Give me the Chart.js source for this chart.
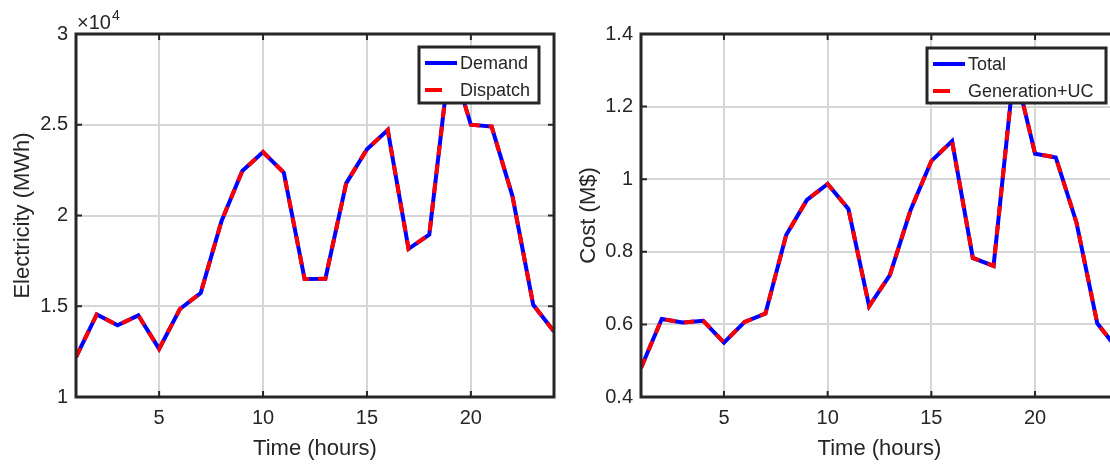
<!DOCTYPE html>
<html>
<head>
<meta charset="utf-8">
<title>Electricity and cost per hour</title>
<script src="https://cdn.jsdelivr.net/npm/chart.js@4.4.0/dist/chart.umd.min.js"></script>
<style>
  html, body { margin: 0; padding: 0; background: #fff; overflow: hidden; width: 1110px; height: 464px; }
  .panel { position: absolute; top: 0; height: 464px; }
  #leftPanel { left: 0; width: 560px; }
  #rightPanel { left: 560px; width: 566px; }
</style>
</head>
<body>
<div class="panel" id="leftPanel"><canvas id="energyChart" width="560" height="464"></canvas></div>
<div class="panel" id="rightPanel"><canvas id="costChart" width="566" height="464"></canvas></div>
<script>
// hours of the day (x axis)
const hours = [1, 2, 3, 4, 5, 6, 7, 8, 9, 10, 11, 12, 13, 14, 15, 16, 17, 18, 19, 20, 21, 22, 23, 24];
const xTicks = [5, 10, 15, 20];

// left panel: electricity in MWh
const demand   = [12200, 14550, 13950, 14500, 12650, 14850, 15730, 19690, 22450, 23500, 22360, 16500,
                  16520, 21770, 23650, 24710, 18160, 18950, 28800, 25000, 24900, 21070, 15080, 13610];
const dispatch = [12200, 14550, 13950, 14500, 12650, 14850, 15730, 19690, 22450, 23500, 22360, 16500,
                  16520, 21770, 23650, 24710, 18160, 18950, 28800, 25000, 24900, 21070, 15080, 13610];
const energyTicks = [10000, 15000, 20000, 25000, 30000];

// right panel: cost in M$
const totalCost = [0.48, 0.615, 0.605, 0.61, 0.55, 0.607, 0.63, 0.846, 0.943, 0.987, 0.918, 0.65,
                   0.736, 0.915, 1.05, 1.105, 0.783, 0.761, 1.31, 1.07, 1.06, 0.88, 0.603, 0.53];
const genUcCost = [0.48, 0.615, 0.605, 0.61, 0.55, 0.607, 0.63, 0.846, 0.943, 0.987, 0.918, 0.65,
                   0.736, 0.915, 1.05, 1.105, 0.783, 0.761, 1.31, 1.07, 1.06, 0.88, 0.603, 0.53];
const costTicks = [0.4, 0.6, 0.8, 1.0, 1.2, 1.4];

const axisColor = "#262626";
const gridColor = "#d6d6d6";
const fontFamily = "'Liberation Sans', Arial, Helvetica, sans-serif";
Chart.defaults.color = axisColor;
Chart.defaults.font.family = fontFamily;

function toPoints(values) {
    return values.map((v, i) => ({ x: hours[i], y: v }));
}

// box around the axes, inner tick marks, legend with a frame, exponent label
const framePlugin = {
    id: "framePlugin",
    afterDraw(chart, args, opts) {
        const ctx = chart.ctx;
        const a = chart.chartArea;
        const xs = chart.scales.x;
        const ys = chart.scales.y;
        ctx.save();

        ctx.strokeStyle = axisColor;
        ctx.lineWidth = 2;
        ctx.beginPath();
        xTicks.forEach(v => {
            const p = xs.getPixelForValue(v);
            ctx.moveTo(p, a.bottom); ctx.lineTo(p, a.bottom - 6);
            ctx.moveTo(p, a.top); ctx.lineTo(p, a.top + 6);
        });
        opts.yTicks.forEach(v => {
            const p = ys.getPixelForValue(v);
            ctx.moveTo(a.left, p); ctx.lineTo(a.left + 6, p);
            ctx.moveTo(a.right, p); ctx.lineTo(a.right - 6, p);
        });
        ctx.stroke();

        ctx.lineWidth = 3;
        ctx.strokeRect(a.left, a.top, a.right - a.left, a.bottom - a.top);

        // legend
        const lg = opts.legend;
        ctx.fillStyle = "#fff";
        ctx.fillRect(lg.x, lg.y, lg.w, lg.h);
        ctx.lineWidth = 3;
        ctx.strokeStyle = axisColor;
        ctx.strokeRect(lg.x, lg.y, lg.w, lg.h);
        ctx.font = "18px " + fontFamily;
        ctx.textBaseline = "middle";
        ctx.textAlign = "left";
        lg.items.forEach((item, i) => {
            const y = lg.y + 16 + i * 27;
            ctx.beginPath();
            ctx.strokeStyle = item.color;
            ctx.lineWidth = 4;
            ctx.setLineDash(item.dash);
            ctx.moveTo(lg.x + 6, y);
            ctx.lineTo(lg.x + 38, y);
            ctx.stroke();
            ctx.setLineDash([]);
            ctx.fillStyle = axisColor;
            ctx.fillText(item.label, lg.x + 41, y + 1);
        });

        if (opts.exponent) {
            ctx.fillStyle = axisColor;
            ctx.textBaseline = "alphabetic";
            ctx.font = "20px " + fontFamily;
            const base = "\u00d710";
            ctx.fillText(base, 77, 29);
            const w = ctx.measureText(base).width;
            ctx.font = "14px " + fontFamily;
            ctx.fillText(opts.exponent, 78 + w, 20);
        }
        ctx.restore();
    }
};

function makeChart(canvasId, cfg) {
    return new Chart(document.getElementById(canvasId).getContext("2d"), {
        type: "line",
        data: {
            datasets: [{
                label: cfg.labels[0],
                data: toPoints(cfg.series[0]),
                borderColor: "#0000ff",
                borderWidth: 4,
                pointRadius: 0,
                tension: 0,
                order: 2,
            }, {
                label: cfg.labels[1],
                data: toPoints(cfg.series[1]),
                borderColor: "#ff0000",
                borderWidth: 4,
                borderDash: [10, 9],
                pointRadius: 0,
                tension: 0,
                order: 1,
            }],
        },
        options: {
            responsive: false,
            animation: false,
            devicePixelRatio: 1,
            layout: { padding: { top: 34, right: cfg.padRight, bottom: 0, left: 0 } },
            plugins: {
                legend: { display: false },
                tooltip: { enabled: false },
                framePlugin: { yTicks: cfg.yTicks, legend: cfg.legend, exponent: cfg.exponent },
            },
            scales: {
                x: {
                    type: "linear",
                    min: 1,
                    max: 24,
                    afterBuildTicks: s => { s.ticks = xTicks.map(v => ({ value: v })); },
                    afterFit: s => { s.height = 67; },
                    grid: { color: gridColor, lineWidth: 2, drawTicks: false },
                    border: { display: false },
                    ticks: { font: { size: 20 }, padding: 9, maxRotation: 0 },
                    title: { display: true, text: "Time (hours)", font: { size: 22 }, padding: { top: 0, bottom: 2 } },
                },
                y: {
                    min: cfg.yTicks[0],
                    max: cfg.yTicks[cfg.yTicks.length - 1],
                    afterBuildTicks: s => { s.ticks = cfg.yTicks.map(v => ({ value: v })); },
                    afterFit: s => { s.width = cfg.yWidth; },
                    grid: { color: gridColor, lineWidth: 2, drawTicks: false },
                    border: { display: false },
                    ticks: { font: { size: 20 }, padding: 8, callback: cfg.tickFormat },
                    title: { display: true, text: cfg.yTitle, font: { size: 22 }, padding: { top: cfg.titlePad, bottom: 0 } },
                },
            },
        },
        plugins: [framePlugin],
    });
}

const energyChart = makeChart("energyChart", {
    labels: ["Demand", "Dispatch"],
    series: [demand, dispatch],
    yTicks: energyTicks,
    yWidth: 76,
    padRight: 6,
    titlePad: 10,
    yTitle: "Electricity (MWh)",
    tickFormat: v => String(v / 10000),
    exponent: "4",
    legend: {
        x: 419, y: 47, w: 120, h: 56,
        items: [
            { label: "Demand", color: "#0000ff", dash: [] },
            { label: "Dispatch", color: "#ff0000", dash: [17, 40] },
        ],
    },
});

const costChart = makeChart("costChart", {
    labels: ["Total", "Generation+UC"],
    series: [totalCost, genUcCost],
    yTicks: costTicks,
    yWidth: 81,
    padRight: 8,
    titlePad: 16,
    yTitle: "Cost (M$)",
    tickFormat: v => String(Math.round(v * 10) / 10),
    exponent: null,
    legend: {
        x: 367, y: 48, w: 179, h: 55,
        items: [
            { label: "Total", color: "#0000ff", dash: [] },
            { label: "Generation+UC", color: "#ff0000", dash: [17, 40] },
        ],
    },
});
</script>
</body>
</html>
